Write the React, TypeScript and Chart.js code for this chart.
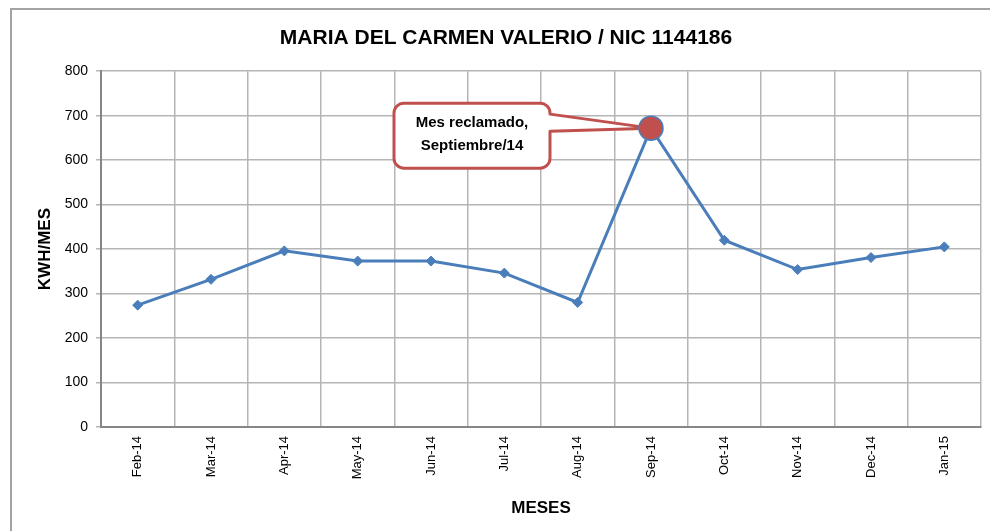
import React, { useEffect, useRef } from "react";
import { Chart, registerables } from "chart.js";

Chart.register(...registerables);

const titleText = "MARIA DEL CARMEN VALERIO / NIC 1144186";
const categories = ["Feb-14", "Mar-14", "Apr-14", "May-14", "Jun-14", "Jul-14", "Aug-14", "Sep-14", "Oct-14", "Nov-14", "Dec-14", "Jan-15"];
const kwhValues = [274, 332, 396, 373, 373, 346, 280, 672, 420, 354, 381, 405];
const highlightIndex = 7;
const calloutLines = ["Mes reclamado,", "Septiembre/14"];

const BLUE = "#4A7EBB";
const RED = "#C0504D";
const FONT = "'Liberation Sans', Arial, sans-serif";

const calloutPlugin = {
  id: "callout",
  beforeDatasetsDraw(chart: any) {
    const meta = chart.getDatasetMeta(0);
    const pt = meta.data[highlightIndex];
    if (!pt) return;
    const px = pt.x;
    const py = pt.y;
    const ctx = chart.ctx;
    const left = px - 257;
    const right = px - 101;
    const top = py - 25;
    const bottom = py + 40;
    const r = 10;
    ctx.save();
    ctx.beginPath();
    ctx.moveTo(left + r, top);
    ctx.lineTo(right - r, top);
    ctx.arcTo(right, top, right, top + r, r);
    ctx.lineTo(right, py - 14);
    ctx.lineTo(px, py);
    ctx.lineTo(right, py + 3);
    ctx.lineTo(right, bottom - r);
    ctx.arcTo(right, bottom, right - r, bottom, r);
    ctx.lineTo(left + r, bottom);
    ctx.arcTo(left, bottom, left, bottom - r, r);
    ctx.lineTo(left, top + r);
    ctx.arcTo(left, top, left + r, top, r);
    ctx.closePath();
    ctx.fillStyle = "#ffffff";
    ctx.fill();
    ctx.lineWidth = 3;
    ctx.strokeStyle = RED;
    ctx.lineJoin = "round";
    ctx.stroke();
    ctx.fillStyle = "#000000";
    ctx.font = "bold 15px " + FONT;
    ctx.textAlign = "center";
    ctx.textBaseline = "middle";
    const cx = (left + right) / 2;
    ctx.fillText(calloutLines[0], cx, py - 5);
    ctx.fillText(calloutLines[1], cx, py + 18);
    ctx.restore();
  },
};

export default function App() {
  const ref = useRef<HTMLCanvasElement | null>(null);
  useEffect(() => {
    if (!ref.current) return;
    const chart = new Chart(ref.current, {
      type: "line",
      data: {
        labels: categories,
        datasets: [
          {
            data: kwhValues,
            borderColor: BLUE,
            borderWidth: 3,
            tension: 0,
            pointStyle: kwhValues.map((_, i) => (i === highlightIndex ? "circle" : "rectRot")) as any,
            pointRadius: kwhValues.map((_, i) => (i === highlightIndex ? 12 : 5)),
            pointBackgroundColor: kwhValues.map((_, i) => (i === highlightIndex ? RED : BLUE)),
            pointBorderColor: BLUE,
            pointBorderWidth: kwhValues.map((_, i) => (i === highlightIndex ? 1.5 : 1)),
          },
        ],
      },
      options: {
        animation: false,
        responsive: true,
        maintainAspectRatio: false,
        layout: { padding: { left: 31, right: 9, top: 0, bottom: 0 } },
        plugins: {
          legend: { display: false },
          tooltip: { enabled: false },
          title: {
            display: true,
            text: titleText,
            color: "#000000",
            font: { family: FONT, size: 21, weight: "bold" },
            padding: { top: 26, bottom: 20 },
          },
        },
        scales: {
          x: {
            type: "category",
            offset: true,
            grid: { offset: true, color: "#b5b5b5", lineWidth: 1.5, drawTicks: false },
            border: { color: "#868686", width: 2 },
            ticks: {
              color: "#000000",
              font: { family: FONT, size: 13 },
              minRotation: 90,
              maxRotation: 90,
              padding: 9,
              autoSkip: false,
            },
            title: {
              display: true,
              text: "MESES",
              color: "#000000",
              font: { family: FONT, size: 17, weight: "bold" },
              padding: { top: 4, bottom: 12 },
            },
            afterFit: (s: any) => {
              s.height = 104;
            },
          },
          y: {
            min: 0,
            max: 800,
            ticks: {
              stepSize: 100,
              color: "#000000",
              font: { family: FONT, size: 14 },
              padding: 8,
            },
            grid: { color: "#b5b5b5", lineWidth: 1.5, tickLength: 5 },
            border: { color: "#868686", width: 2 },
            title: {
              display: true,
              text: "KWH/MES",
              color: "#000000",
              font: { family: FONT, size: 17, weight: "bold" },
              padding: { top: 4, bottom: 4 },
            },
            afterFit: (s: any) => {
              s.width = 70;
            },
          },
        },
      },
      plugins: [calloutPlugin],
    });
    return () => chart.destroy();
  }, []);
  return (
    <div style={{ position: "fixed", left: 0, top: 0, width: 990, height: 531, background: "#ffffff", overflow: "hidden" }}>
      <div
        style={{
          position: "absolute",
          left: 10,
          top: 8,
          width: 1000,
          height: 600,
          border: "2px solid #a3a3a3",
          boxSizing: "border-box",
        }}
      />
      <canvas ref={ref} style={{ position: "absolute", left: 0, top: 0, width: 990, height: 531 }} />
    </div>
  );
}
